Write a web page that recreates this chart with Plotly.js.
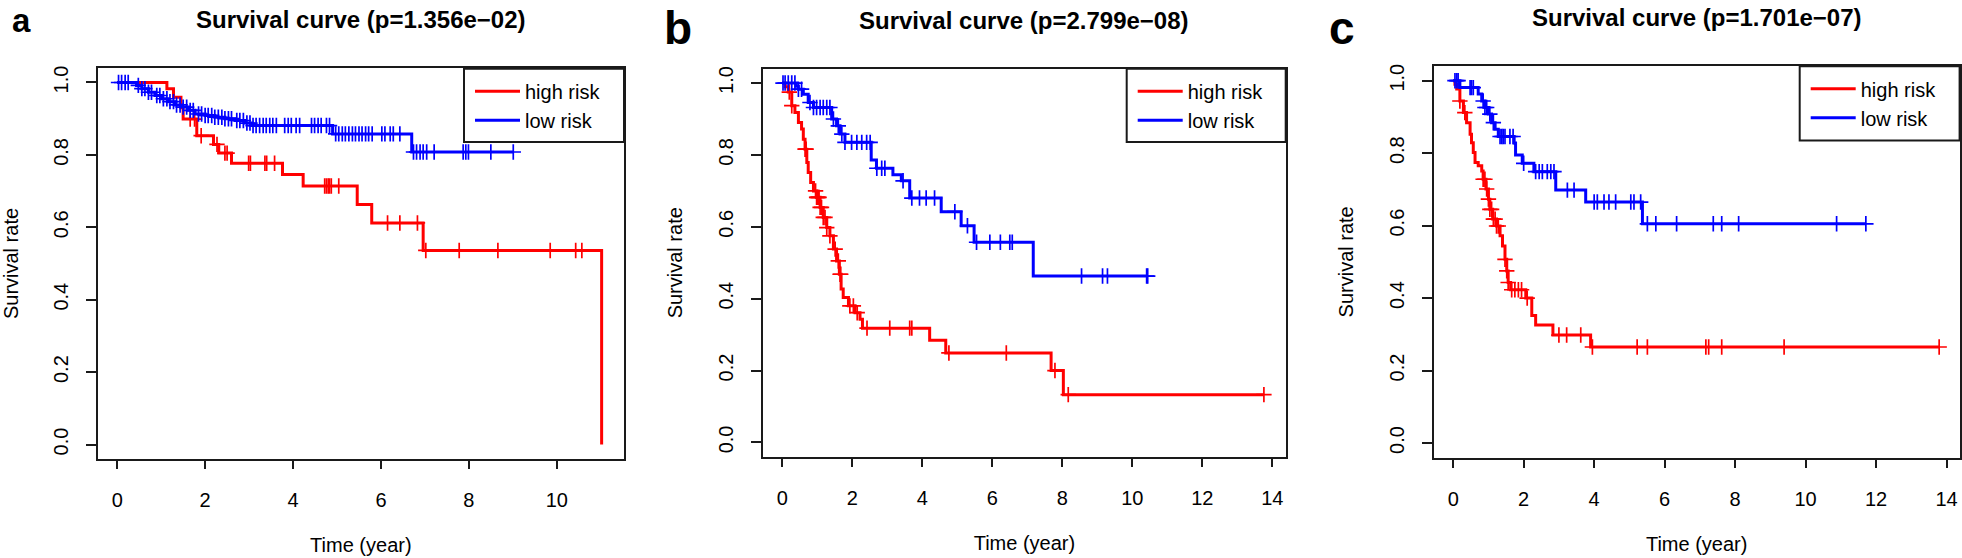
<!DOCTYPE html>
<html><head><meta charset="utf-8">
<script src="https://cdn.plot.ly/plotly-3.0.1.min.js"></script>
<style>html,body{margin:0;padding:0;background:#fff}</style>
</head><body>
<div id="chart" style="width:1962px;height:558px"></div>
<script>
// ---------- data ----------
const panelLetters = ['a', 'b', 'c'];
const panelTitles = ['Survival curve (p=1.356e\u221202)', 'Survival curve (p=2.799e\u221208)', 'Survival curve (p=1.701e\u221207)'];
const groupNames = ['high risk', 'low risk'];
const xTickVals = [[0, 2, 4, 6, 8, 10], [0, 2, 4, 6, 8, 10, 12, 14], [0, 2, 4, 6, 8, 10, 12, 14]];
const yTickVals = [0, 0.2, 0.4, 0.6, 0.8, 1.0];
const xTitle = 'Time (year)';
const yTitle = 'Survival rate';

// panel a
const aHighTime = [0, 1.13, 1.28, 1.45, 1.50, 1.81, 2.19, 2.31, 2.60, 3.76, 4.23, 5.46, 5.79, 6.96, 11.02];
const aHighSurv = [1, 0.983, 0.959, 0.930, 0.899, 0.853, 0.829, 0.805, 0.777, 0.746, 0.714, 0.663, 0.612, 0.536, 0];
const aHighCensor = [1.66, 1.76, 1.91, 2.27, 2.45, 2.50, 2.99, 3.03, 3.36, 3.40, 3.58, 4.72, 4.76, 4.80, 4.83, 4.87, 5.04, 6.15, 6.43, 6.83, 7.02, 7.78, 8.66, 9.85, 10.43, 10.57];
const aLowTime = [0, 0.44, 0.56, 0.71, 0.86, 1.01, 1.16, 1.31, 1.47, 1.62, 1.77, 2.00, 2.22, 2.45, 2.68, 2.91, 3.06, 4.90, 6.70, 9.01];
const aLowSurv = [1, 0.992, 0.983, 0.973, 0.964, 0.955, 0.947, 0.938, 0.932, 0.923, 0.913, 0.909, 0.904, 0.900, 0.895, 0.888, 0.881, 0.858, 0.808, 0.808];
const aLowCensor = [0.03, 0.10, 0.18, 0.25, 0.48, 0.56, 0.63, 0.71, 0.78, 0.90, 0.97, 1.05, 1.13, 1.20, 1.28, 1.35, 1.43, 1.50, 1.58, 1.66, 1.73, 1.85, 1.92, 2.00, 2.07, 2.15, 2.22, 2.30, 2.38, 2.45, 2.53, 2.60, 2.72, 2.79, 2.87, 2.95, 3.02, 3.09, 3.16, 3.24, 3.32, 3.39, 3.47, 3.54, 3.62, 3.81, 3.89, 3.96, 4.07, 4.15, 4.42, 4.49, 4.57, 4.64, 4.76, 4.83, 4.97, 5.04, 5.12, 5.19, 5.27, 5.35, 5.42, 5.50, 5.57, 5.65, 5.72, 5.80, 6.02, 6.09, 6.21, 6.28, 6.43, 6.74, 6.81, 6.89, 6.96, 7.04, 7.21, 7.87, 7.93, 7.99, 8.50, 9.01];

// panel b
const bHighTime = [0, 0.08, 0.17, 0.27, 0.36, 0.46, 0.55, 0.60, 0.65, 0.70, 0.74, 0.81, 0.89, 0.98, 1.08, 1.17, 1.27, 1.36, 1.46, 1.55, 1.63, 1.68, 1.74, 1.89, 2.08, 2.22, 2.29, 4.21, 4.67, 7.68, 8.03, 13.76];
const bHighSurv = [1, 0.990, 0.975, 0.937, 0.918, 0.890, 0.872, 0.844, 0.816, 0.779, 0.751, 0.723, 0.700, 0.682, 0.654, 0.626, 0.598, 0.575, 0.538, 0.505, 0.468, 0.427, 0.403, 0.380, 0.361, 0.343, 0.318, 0.284, 0.249, 0.200, 0.133, 0.133];
const bHighCensor = [0.20, 0.27, 0.65, 0.68, 0.95, 0.98, 1.00, 1.03, 1.05, 1.08, 1.12, 1.17, 1.22, 1.27, 1.36, 1.51, 1.60, 1.65, 1.67, 1.93, 2.03, 2.14, 2.42, 3.07, 3.64, 3.70, 4.76, 6.40, 7.79, 8.17, 13.76];
const bLowTime = [0, 0.40, 0.46, 0.60, 0.74, 0.89, 1.41, 1.55, 1.65, 1.79, 2.54, 2.69, 3.16, 3.40, 3.64, 4.54, 5.11, 5.48, 7.17, 10.44];
const bLowSurv = [1, 0.991, 0.983, 0.969, 0.946, 0.932, 0.900, 0.881, 0.858, 0.835, 0.786, 0.763, 0.745, 0.728, 0.680, 0.642, 0.603, 0.557, 0.463, 0.463];
const bLowCensor = [0.02, 0.08, 0.17, 0.27, 0.36, 0.46, 0.55, 0.79, 0.89, 0.98, 1.08, 1.17, 1.27, 1.36, 1.46, 1.60, 1.70, 1.79, 1.98, 2.13, 2.27, 2.41, 2.51, 2.70, 2.84, 2.93, 3.45, 3.70, 3.92, 4.11, 4.35, 4.93, 5.29, 5.55, 5.93, 6.23, 6.50, 6.57, 8.55, 9.15, 9.29, 10.41, 10.44];

// panel c
const cHighTime = [0, 0.05, 0.10, 0.19, 0.29, 0.38, 0.48, 0.52, 0.57, 0.62, 0.71, 0.81, 0.85, 0.93, 1.00, 1.04, 1.12, 1.23, 1.33, 1.40, 1.47, 1.52, 1.56, 1.63, 2.06, 2.23, 2.34, 2.83, 3.90, 13.79];
const cHighSurv = [1, 0.990, 0.977, 0.944, 0.912, 0.884, 0.852, 0.829, 0.802, 0.774, 0.765, 0.751, 0.728, 0.701, 0.673, 0.645, 0.618, 0.599, 0.572, 0.544, 0.507, 0.475, 0.443, 0.423, 0.400, 0.352, 0.326, 0.298, 0.265, 0.265];
const cHighCensor = [0.19, 0.33, 0.85, 0.90, 0.95, 1.00, 1.04, 1.09, 1.14, 1.19, 1.23, 1.28, 1.47, 1.52, 1.56, 1.66, 1.75, 1.85, 1.94, 2.10, 3.00, 3.22, 3.62, 3.95, 5.22, 5.51, 7.17, 7.25, 7.62, 9.39, 13.79];
const cLowTime = [0, 0.19, 0.71, 0.81, 0.90, 1.00, 1.09, 1.19, 1.28, 1.73, 1.77, 1.96, 2.29, 2.91, 3.76, 5.37, 11.71];
const cLowSurv = [1, 0.981, 0.963, 0.944, 0.926, 0.908, 0.884, 0.866, 0.846, 0.828, 0.795, 0.772, 0.749, 0.698, 0.665, 0.605, 0.605];
const cLowCensor = [0.05, 0.10, 0.14, 0.48, 0.52, 0.57, 0.85, 0.90, 0.95, 1.04, 1.14, 1.33, 1.38, 1.42, 1.47, 1.61, 1.70, 2.00, 2.34, 2.44, 2.53, 2.67, 2.77, 2.86, 3.24, 3.43, 4.00, 4.09, 4.28, 4.42, 4.61, 5.04, 5.13, 5.32, 5.51, 5.75, 6.34, 7.38, 7.62, 8.10, 10.88, 11.71];

// ---------- layout constants ----------
const W = 1962, H = 558;
const RED = '#ff0000', BLUE = '#0000ff', INK = '#1a1a1a';
const FONT = 'Liberation Sans, Arial, sans-serif';
// plot boxes in pixels [left, right, top, bottom]
const boxes = [[97.7, 624, 68, 459], [763.2, 1285.7, 68.7, 456.8], [1433.7, 1959.6, 66.2, 457.5]];
const xRanges = [[-0.444, 11.529], [-0.546, 14.383], [-0.553, 14.37]];
const yRange = [-0.04, 1.04];
const legendBoxes = [[464, 624, 68.7, 142], [1126.7, 1285.7, 68.7, 142], [1799.7, 1959.6, 66.2, 140.6]];
// letter: x centre, top of text box, font size
const letterPos = [[21.6, 0, 33], [678, 0, 46], [1342.3, 0, 46]];
const titleY = [19, 20.6, 17];

const px = x => x / W;
const py = y => 1 - y / H;

function survAt(times, surv, t) {
  let s = surv[0];
  for (let i = 0; i < times.length; i++) { if (times[i] <= t) s = surv[i]; else break; }
  return s;
}

const panels = [
  [[aHighTime, aHighSurv, aHighCensor], [aLowTime, aLowSurv, aLowCensor]],
  [[bHighTime, bHighSurv, bHighCensor], [bLowTime, bLowSurv, bLowCensor]],
  [[cHighTime, cHighSurv, cHighCensor], [cLowTime, cLowSurv, cLowCensor]]
];
const colors = [RED, BLUE];

const traces = [];
const layout = {
  width: W, height: H,
  margin: {l: 0, r: 0, t: 0, b: 0},
  paper_bgcolor: '#fff', plot_bgcolor: '#fff',
  font: {family: FONT, color: '#000', size: 20},
  showlegend: true,
  annotations: [], shapes: []
};

panels.forEach((panel, k) => {
  const sfx = k === 0 ? '' : String(k + 1);
  const xa = 'x' + sfx, ya = 'y' + sfx;
  const legName = 'legend' + sfx;
  panel.forEach(([times, surv, cens], g) => {
    traces.push({
      type: 'scatter', mode: 'lines', x: times, y: surv,
      line: {shape: 'hv', color: colors[g], width: 3},
      name: groupNames[g], xaxis: xa, yaxis: ya, legend: legName,
      hoverinfo: 'skip'
    });
    traces.push({
      type: 'scatter', mode: 'markers', x: cens, y: cens.map(t => survAt(times, surv, t)),
      marker: {symbol: 'cross-thin-open', size: 11, color: colors[g], line: {color: colors[g], width: 1.7}},
      showlegend: false, xaxis: xa, yaxis: ya, hoverinfo: 'skip'
    });
  });
  const [l, r, t, b] = boxes[k];
  layout['xaxis' + sfx] = {
    domain: [px(l), px(r)], range: xRanges[k], anchor: ya,
    tickvals: xTickVals[k], ticktext: xTickVals[k].map(String),
    ticks: 'outside', ticklen: 8, tickwidth: 2, tickcolor: INK,
    showline: true, mirror: true, linecolor: INK, linewidth: 2,
    showgrid: false, zeroline: false, ticklabelstandoff: 14,
    tickfont: {size: 20, color: '#000', family: FONT},
    title: {text: xTitle, font: {size: 20, color: '#000', family: FONT}, standoff: 28}
  };
  layout['yaxis' + sfx] = {
    domain: [py(b), py(t)], range: yRange, anchor: xa,
    tickvals: yTickVals, ticktext: yTickVals.map(v => v.toFixed(1)),
    tickangle: -90,
    ticks: 'outside', ticklen: 10, tickwidth: 2, tickcolor: INK,
    showline: true, mirror: true, linecolor: INK, linewidth: 2,
    showgrid: false, zeroline: false, ticklabelstandoff: 10,
    tickfont: {size: 20, color: '#000', family: FONT},
    title: {text: yTitle, font: {size: 20, color: '#000', family: FONT}, standoff: 27}
  };
  const [lx0, lx1, ly0, ly1] = legendBoxes[k];
  layout.shapes.push({type: 'rect', xref: 'paper', yref: 'paper', x0: px(lx0), x1: px(lx1), y0: py(ly1), y1: py(ly0),
    line: {color: INK, width: 2}, fillcolor: '#fff', layer: 'above'});
  layout[legName] = {
    x: px(lx0 + 6), y: py(ly0 + 3), xanchor: 'left', yanchor: 'top',
    bgcolor: 'rgba(0,0,0,0)', borderwidth: 0, itemwidth: 45,
    font: {size: 20, color: '#000', family: FONT}
  };
  layout.annotations.push({
    xref: 'paper', yref: 'paper', x: px((l + r) / 2), y: py(titleY[k]), xanchor: 'center', yanchor: 'middle',
    text: '<b>' + panelTitles[k] + '</b>', showarrow: false, font: {size: 24, color: '#000', family: FONT}
  });
  const [lpx, lpy, lfs] = letterPos[k];
  layout.annotations.push({
    xref: 'paper', yref: 'paper', x: px(lpx), y: py(lpy), xanchor: 'center', yanchor: 'top',
    text: '<b>' + panelLetters[k] + '</b>', showarrow: false, font: {size: lfs, color: '#000', family: FONT}
  });
});

Plotly.newPlot('chart', traces, layout, {displayModeBar: false, staticPlot: true});
</script>
</body></html>
